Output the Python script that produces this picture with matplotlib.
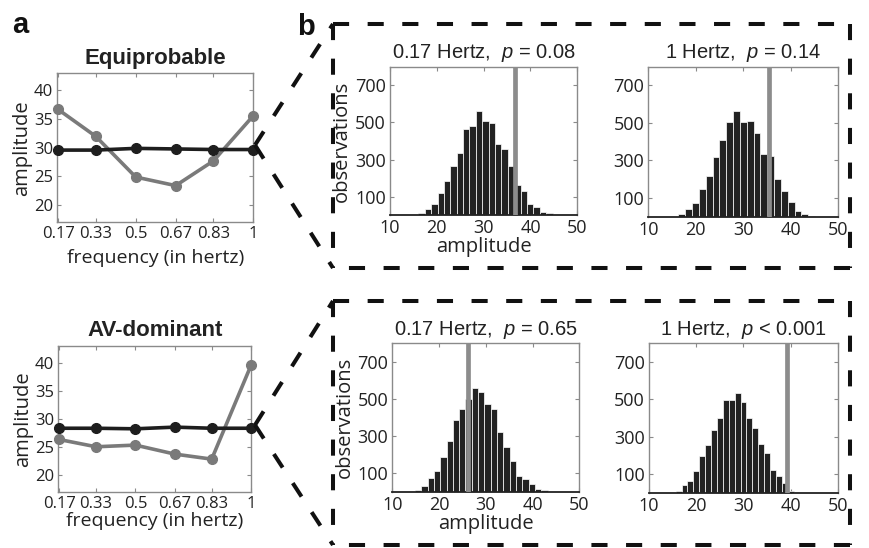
import numpy as np
import matplotlib
matplotlib.use("Agg")
import matplotlib.pyplot as plt
from matplotlib.lines import Line2D

plt.rcParams['font.family'] = ['Liberation Sans', 'DejaVu Sans']
plt.rcParams['mathtext.fontset'] = 'custom'
plt.rcParams['mathtext.rm'] = 'Liberation Sans'
plt.rcParams['mathtext.it'] = 'Liberation Sans:italic'

# ---------------- data ----------------
freqs = [0.17, 0.33, 0.5, 0.67, 0.83, 1.0]
freq_labels = ['0.17', '0.33', '0.5', '0.67', '0.83', '1']

equi_gray = [36.7, 32.0, 24.9, 23.4, 27.7, 35.6]
equi_black = [29.6, 29.6, 29.9, 29.8, 29.7, 29.7]
av_gray = [26.3, 25.0, 25.3, 23.7, 22.8, 39.5]
av_black = [28.3, 28.3, 28.2, 28.5, 28.3, 28.3]

amp_ticks = [20, 25, 30, 35, 40]
hist_xticks = [10, 20, 30, 40, 50]
hist_yticks = [100, 300, 500, 700]

# histogram 1: Equiprobable, 0.17 Hz
h1_start, h1_width = 16.05, 1.366
h1_counts = [12, 34, 59, 118, 187, 268, 337, 466, 479, 559, 509, 498, 382, 359,
             264, 164, 132, 59, 46, 18, 14]
h1_obs = 36.7
h1_title = '0.17 Hertz,  $p$ = 0.08'

# histogram 2: Equiprobable, 1 Hz
h2_start, h2_width = 16.32, 1.44
h2_counts = [16, 41, 71, 145, 215, 317, 411, 504, 564, 506, 511, 446, 332, 324,
             199, 138, 79, 30, 12, 4]
h2_obs = 35.5
h2_title = '1 Hertz,  $p$ = 0.14'

# histogram 3: AV-dominant, 0.17 Hz
h3_start, h3_width = 14.85, 1.35
h3_counts = [12, 32, 73, 114, 188, 276, 385, 447, 500, 557, 536, 471, 444, 324,
             243, 166, 88, 68, 41, 14, 12]
h3_obs = 26.2
h3_title = '0.17 Hertz,  $p$ = 0.65'

# histogram 4: AV-dominant, 1 Hz
h4_start, h4_width = 15.65, 1.25
h4_counts = [9, 45, 63, 118, 200, 255, 337, 402, 495, 498, 534, 488, 400, 348,
             261, 211, 123, 89, 55, 12, 4]
h4_obs = 39.26
h4_title = '1 Hertz,  $p$ < 0.001'

# ---------------- layout ----------------
W, H = 870, 548
fig = plt.figure(figsize=(W / 100, H / 100), dpi=100)
fig.patch.set_facecolor('white')


def rect(x0, y0, x1, y1):
    return [x0 / W, 1 - y1 / H, (x1 - x0) / W, (y1 - y0) / H]


def fx(x):
    return x / W


def fy(y):
    return 1 - y / H


SPINE = '#8a8a8a'
TXT = '#222222'
TICKFONT = 'Open Sans'


def style_axes(ax, xt, xl, yt, size):
    for s in ax.spines.values():
        s.set_color(SPINE)
        s.set_linewidth(1.0)
    ax.tick_params(direction='in', top=True, right=True, length=3,
                   color=SPINE, pad=3)
    ax.set_xticks(xt)
    ax.set_xticklabels(xl, fontsize=size, family=TICKFONT, color=TXT)
    ax.set_yticks(yt)
    ax.set_yticklabels([str(v) for v in yt], fontsize=size, family=TICKFONT,
                       color=TXT)


def line_panel(ax, gray, black, title, xpad):
    ax.plot(freqs, gray, color='#7a7a7a', lw=2.6, marker='o', ms=7,
            clip_on=False, zorder=3)
    ax.plot(freqs, black, color='#1e1e1e', lw=2.6, marker='o', ms=7,
            clip_on=False, zorder=4)
    ax.set_xlim(1 / 6, 1.0)
    ax.set_ylim(17, 43)
    style_axes(ax, freqs, freq_labels, amp_ticks, 12)
    ax.set_title(title, fontsize=16, fontweight='bold', color=TXT, pad=7)
    ax.set_xlabel('frequency (in hertz)', fontsize=14, family=TICKFONT,
                  color=TXT, labelpad=xpad)
    ax.set_ylabel('amplitude', fontsize=14.5, family=TICKFONT, color=TXT,
                  labelpad=1)


def hist_panel(ax, start, width, counts, obs, title, labels):
    centers = start + width * (np.arange(len(counts)) + 0.5)
    ax.bar(centers, counts, width=width, color='#222222', edgecolor='white',
           linewidth=0.5, zorder=2)
    ax.axvline(obs, color='#8c8c8c', lw=3.4, zorder=3)
    ax.set_xlim(10, 50)
    ax.set_ylim(0, 800)
    style_axes(ax, hist_xticks, [str(v) for v in hist_xticks], hist_yticks,
               13)
    ax.spines['bottom'].set_color('#222222')
    ax.spines['bottom'].set_linewidth(1.3)
    ax.set_title(title, fontsize=14.5, color=TXT, pad=6)
    if labels:
        ax.set_xlabel('amplitude', fontsize=14.5, family=TICKFONT, color=TXT,
                      labelpad=0)
        ax.set_ylabel('observations', fontsize=14.5, family=TICKFONT,
                      color=TXT, labelpad=2)


ax_a1 = fig.add_axes(rect(57.3, 73.3, 253.3, 222.3))
line_panel(ax_a1, equi_gray, equi_black, 'Equiprobable', 5)
ax_a2 = fig.add_axes(rect(58.3, 345.7, 251.0, 491.7))
line_panel(ax_a2, av_gray, av_black, 'AV-dominant', 0)

ax_h1 = fig.add_axes(rect(390.0, 66.7, 577.3, 215.3))
hist_panel(ax_h1, h1_start, h1_width, h1_counts, h1_obs, h1_title, True)
ax_h2 = fig.add_axes(rect(648.3, 66.7, 838.3, 216.5))
hist_panel(ax_h2, h2_start, h2_width, h2_counts, h2_obs, h2_title, False)
ax_h3 = fig.add_axes(rect(392.3, 343.0, 579.3, 492.0))
hist_panel(ax_h3, h3_start, h3_width, h3_counts, h3_obs, h3_title, True)
ax_h4 = fig.add_axes(rect(649.0, 343.0, 837.7, 493.0))
hist_panel(ax_h4, h4_start, h4_width, h4_counts, h4_obs, h4_title, False)

# ---------------- dashed boxes and connectors ----------------
dash = dict(color='#111111', lw=2.9, linestyle=(0, (4.0, 4.6)),
            solid_capstyle='butt', dash_capstyle='butt')


def fig_line(xs, ys):
    fig.add_artist(Line2D([fx(x) for x in xs], [fy(y) for y in ys], **dash))


for (bx0, by0, bx1, by1, px, py) in [(333, 24, 850, 268, 255, 145),
                                     (333, 301, 850, 545, 255, 425)]:
    fig_line([bx0, bx1], [by0, by0])
    fig_line([bx1, bx1], [by0, by1])
    fig_line([bx1, bx0], [by1, by1])
    fig_line([bx0, bx0], [by0, by1])
    fig_line([px, bx0], [py, by0])
    fig_line([px, bx0], [py, by1])

fig.text(fx(12), fy(33), 'a', fontsize=21, fontweight='bold', color='#111111')
fig.text(fx(297), fy(35), 'b', fontsize=21, fontweight='bold', color='#111111')

fig.savefig('out.png', dpi=100, facecolor='white')
